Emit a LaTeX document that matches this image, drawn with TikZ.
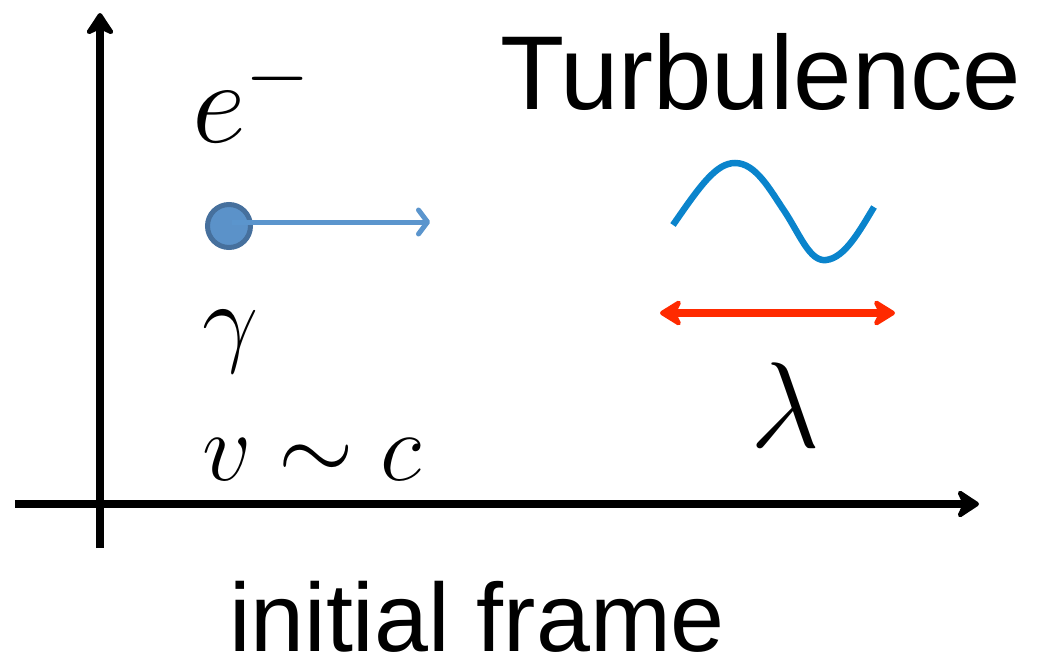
\RequirePackage{fix-cm}
\documentclass[tikz,border=0pt]{standalone}
\usepackage{fontspec}
\setmainfont{Liberation Sans}
\usetikzlibrary{arrows.meta}
\definecolor{dotfill}{HTML}{5B92C9}
\definecolor{dotdraw}{HTML}{46709D}
\definecolor{velblue}{HTML}{5B95CD}
\definecolor{waveblue}{HTML}{0A84CC}
\definecolor{lamred}{HTML}{FF2A00}
\tikzset{
  axis/.style={line width=8pt, -{Stealth[round, length=26pt, width=34pt, inset=8pt]}},
  lbl/.style={anchor=base west, inner sep=0pt, outer sep=0pt},
}
\begin{document}
\begin{tikzpicture}[x=1pt, y=-1pt]
\useasboundingbox (0,0) rectangle (1037,662);
% axes
\coordinate (ybot) at (100,548);
\coordinate (ytop) at (100,13);
\coordinate (xleft) at (15,504);
\coordinate (xright) at (979,504);
\draw[axis] (ybot) -- (ytop);
\draw[axis] (xleft) -- (xright);
% electron
\node[circle, minimum size=43pt, inner sep=0pt, fill=dotfill, draw=dotdraw, line width=5pt] (dot) at (229,226) {};
\coordinate (velstart) at (232,222);
\coordinate (velend) at (430,222);
\draw[velblue, line width=5pt, -{Straight Barb[round, length=9pt, width=24pt]}] (velstart) -- (velend);
% labels
\node[lbl] (elec) at (192,142) {\fontsize{118}{120}\selectfont $e^-$};
\node[lbl] (gam) at (202,353) {\fontsize{100}{110}\selectfont $\gamma$};
\node[lbl] (vc) at (202,480) {\fontsize{97}{110}\selectfont $v\sim c$};
\node[lbl] (turb) at (500,109) {\fontsize{105}{110}\selectfont Turbulence};
\node[lbl, text depth=0pt] (frame) at (229,651) {\fontsize{97}{100}\selectfont initial frame};
\node[lbl] (lam) at (750,447) {\fontsize{122}{125}\selectfont $\lambda$};
% wave
\draw[waveblue, line width=6.5pt] (673,225) .. controls (700,186) and (716,163) .. (735,163)
  .. controls (756,163) and (770,190) .. (785,212)
  .. controls (800,235) and (810,262) .. (826,260)
  .. controls (845,258) and (860,230) .. (874,207);
% wavelength
\coordinate (lamL) at (660,313);
\coordinate (lamR) at (895,313);
\draw[lamred, line width=8pt, {Stealth[round, length=26pt, width=32pt, inset=8pt]}-{Stealth[round, length=26pt, width=32pt, inset=8pt]}] (lamL) -- (lamR);
\end{tikzpicture}
\end{document}
